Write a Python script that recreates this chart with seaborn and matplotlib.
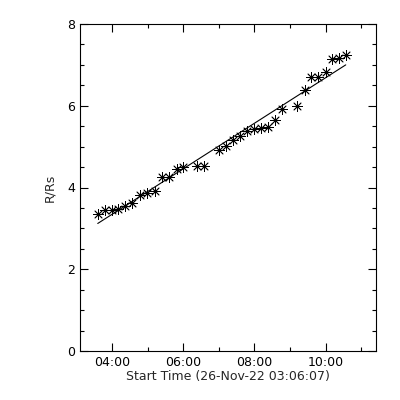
import numpy as np
import pandas as pd
import matplotlib
matplotlib.use("Agg")
import matplotlib.pyplot as plt
import matplotlib.dates as mdates
from matplotlib.ticker import MultipleLocator
import seaborn as sns

# -------------------------------------------
# Data (height vs time)
# -------------------------------------------
times = ["03:36", "03:48", "04:00", "04:11", "04:22", "04:34", "04:47", "04:59",
         "05:12", "05:25", "05:36", "05:49", "06:00", "06:23", "06:35", "07:00",
         "07:12", "07:24", "07:35", "07:48", "08:00", "08:12", "08:23", "08:35",
         "08:46", "09:12", "09:25", "09:35", "09:47", "10:00", "10:11", "10:22",
         "10:35"]
heights = [3.36, 3.46, 3.46, 3.48, 3.54, 3.61, 3.81, 3.86,
           3.92, 4.26, 4.26, 4.46, 4.50, 4.52, 4.52, 4.91,
           5.02, 5.17, 5.25, 5.39, 5.44, 5.46, 5.48, 5.64,
           5.92, 5.99, 6.39, 6.70, 6.70, 6.83, 7.14, 7.16,
           7.24]

# fitted line (end points)
fit_times = ["03:36", "10:34"]
fit_heights = [3.12, 7.00]

day = "2022-11-26 "
t_start = pd.Timestamp(day + "03:06:07")
t_end = pd.Timestamp(day + "11:25:00")

df = pd.DataFrame({"time": pd.to_datetime([day + t for t in times]), "h": heights})
fit = pd.DataFrame({"time": pd.to_datetime([day + t for t in fit_times]), "h": fit_heights})

# -------------------------------------------
# Plot
# -------------------------------------------
sns.set_style("ticks")
plt.rcParams["font.family"] = ["DejaVu Sans"]

fig = plt.figure(figsize=(4, 4), dpi=100)
ax = fig.add_axes([0.2, 0.1225, 0.74, 0.8175])

sns.lineplot(data=fit, x="time", y="h", color="black", linewidth=0.8, ax=ax)
sns.scatterplot(data=df, x="time", y="h", marker=(8, 2, 0), s=50,
                color="black", linewidth=0.6, ax=ax)

ax.set_xlim(t_start, t_end)
ax.set_ylim(0, 8)
ax.yaxis.set_major_locator(MultipleLocator(2))
ax.yaxis.set_minor_locator(MultipleLocator(0.5))
ax.xaxis.set_major_locator(mdates.HourLocator(byhour=[4, 6, 8, 10]))
ax.xaxis.set_minor_locator(mdates.HourLocator(byhour=[5, 7, 9, 11]))
ax.xaxis.set_major_formatter(mdates.DateFormatter("%H:%M"))

ax.tick_params(which="both", direction="in", top=True, right=True,
               width=0.8, labelsize=9, colors="black")
ax.tick_params(which="major", length=6)
ax.tick_params(which="minor", length=3)
for sp in ax.spines.values():
    sp.set_linewidth(0.8)
    sp.set_color("black")

ax.set_xlabel("Start Time (26-Nov-22 03:06:07)", fontsize=9, labelpad=1)
ax.set_ylabel("R/Rs", fontsize=9, labelpad=8)

fig.savefig("out.png", dpi=100, facecolor="white")
